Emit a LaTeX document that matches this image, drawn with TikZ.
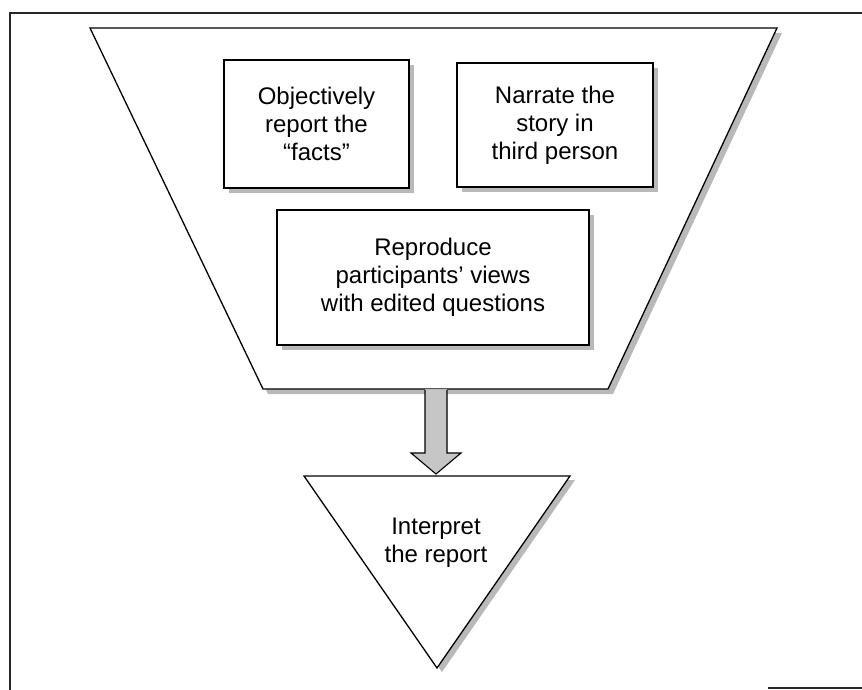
\documentclass[tikz,border=0pt]{standalone}
\usepackage{fontspec}
\setmainfont{Liberation Sans}
\usetikzlibrary{calc,shadows}
\begin{document}
\begin{tikzpicture}[x=1pt,y=-1pt,
  txt/.style={align=center, inner sep=0pt, font=\fontsize{24}{28}\selectfont},
  box/.style={txt, draw, line width=1.3pt, fill=white,
    drop shadow={shadow xshift=5pt, shadow yshift=-5pt, fill=gray!55, opacity=1}},
  shadowfill/.style={fill=gray!55, draw=none},
  outline/.style={draw, line width=1.3pt, fill=white},
  arrowbody/.style={draw, line width=1.1pt, fill=gray!45},
  frameline/.style={line width=1.6pt, draw=black!85}]
\useasboundingbox (0,0) rectangle (862,690);
% frame
\draw[frameline] (862,13) -- (10,13) -- (10,690);
\draw[frameline] (768,688) -- (862,688);
% funnel (trapezoid)
\fill[shadowfill, shift={(5,5)}] (90,28) -- (777,28) -- (608,389) -- (263,389) -- cycle;
\draw[outline] (90,28) -- (777,28) -- (608,389) -- (263,389) -- cycle;
\coordinate (funnelbottom) at (436,389);
% boxes
\node[box, minimum width=185pt, minimum height=128pt] (b1) at (316.5,124)
  {Objectively\\report the\\“facts”};
\node[box, minimum width=196pt, minimum height=124pt] (b2) at (555,125)
  {Narrate the\\story in\\third person};
\node[box, minimum width=312pt, minimum height=135pt] (b3) at (433,277.5)
  {Reproduce\\participants’ views\\with edited questions};
% triangle top
\coordinate (tritop) at (436,476);
% arrow shadow and arrow
\fill[shadowfill, shift={(5,4)}] ($(funnelbottom)+(-11,0)$) -- ($(funnelbottom)+(-11,64)$) -- ($(funnelbottom)+(-25,64)$) -- ($(tritop)+(0,-2)$) -- ($(funnelbottom)+(25,64)$) -- ($(funnelbottom)+(11,64)$) -- ($(funnelbottom)+(11,0)$) -- cycle;
\filldraw[arrowbody] ($(funnelbottom)+(-11,1)$) -- ($(funnelbottom)+(-11,64)$) -- ($(funnelbottom)+(-25,64)$) -- ($(tritop)+(0,-2)$) -- ($(funnelbottom)+(25,64)$) -- ($(funnelbottom)+(11,64)$) -- ($(funnelbottom)+(11,1)$);
% triangle
\fill[shadowfill, shift={(5,4)}] (304,476) -- (570,476) -- (437,668) -- cycle;
\draw[outline] (304,476) -- (570,476) -- (437,668) -- cycle;
\node[txt] (tri) at (436,543) {Interpret\\the report};
\end{tikzpicture}
\end{document}
